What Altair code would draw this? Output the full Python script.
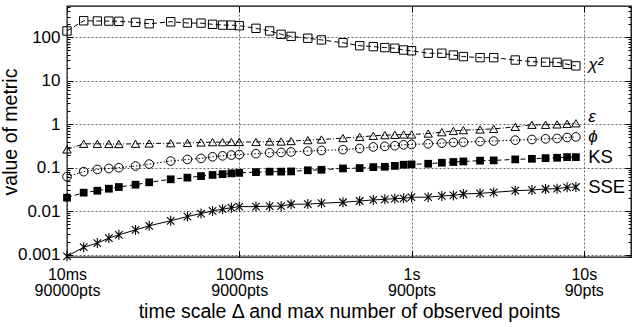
import json
import altair as alt
import pandas as pd

# ---------------- data ----------------
x_time = [0.01, 0.0125, 0.015, 0.0175, 0.02, 0.025, 0.03, 0.04, 0.05, 0.06, 0.07, 0.08, 0.09,
          0.1, 0.125, 0.15, 0.175, 0.2, 0.25, 0.3, 0.4, 0.5, 0.6, 0.7, 0.8, 0.9,
          1.0, 1.25, 1.5, 1.75, 2.0, 2.5, 3.0, 4.0, 5.0, 6.0, 7.0, 8.0, 9.0]

chi2 = [140, 240, 237, 236, 233, 221, 205, 228, 213, 212, 199, 191, 190,
        185, 161, 140, 117, 105, 95, 87, 75, 64, 61, 58, 56, 51,
        49, 43, 43, 39, 36, 34, 34, 30, 27.6, 26.7, 26.5, 24, 22]

eps = [0.263, 0.354, 0.354, 0.35, 0.35, 0.354, 0.36, 0.365, 0.37, 0.38, 0.386, 0.386, 0.39,
       0.39, 0.39, 0.40, 0.40, 0.41, 0.43, 0.445, 0.48, 0.51, 0.54, 0.56, 0.57, 0.58,
       0.58, 0.61, 0.655, 0.70, 0.73, 0.755, 0.78, 0.87, 0.97, 0.97, 0.99, 1.02, 1.05]

phi = [0.062, 0.081, 0.091, 0.096, 0.10, 0.109, 0.121, 0.142, 0.155, 0.163, 0.178, 0.187, 0.195,
       0.20, 0.21, 0.22, 0.224, 0.23, 0.24, 0.249, 0.26, 0.277, 0.30, 0.31, 0.32, 0.336,
       0.342, 0.355, 0.367, 0.38, 0.386, 0.40, 0.41, 0.43, 0.445, 0.46, 0.47, 0.495, 0.51]

ks = [0.0204, 0.0266, 0.0295, 0.0328, 0.0359, 0.0406, 0.046, 0.054, 0.059, 0.064, 0.068, 0.071, 0.074,
      0.076, 0.079, 0.081, 0.081, 0.082, 0.087, 0.0895, 0.096, 0.098, 0.103, 0.105, 0.11, 0.117,
      0.119, 0.123, 0.13, 0.135, 0.139, 0.145, 0.147, 0.155, 0.16, 0.166, 0.169, 0.175, 0.175]

sse = [0.00091, 0.00148, 0.00184, 0.0024, 0.00285, 0.0037, 0.0046, 0.006, 0.0075, 0.0088, 0.0101, 0.0111, 0.012,
       0.0127, 0.0127, 0.013, 0.013, 0.0144, 0.0145, 0.0152, 0.016, 0.0171, 0.0181, 0.0187, 0.0194, 0.0197,
       0.0209, 0.0209, 0.0224, 0.023, 0.0248, 0.0257, 0.027, 0.0295, 0.0306, 0.0323, 0.0328, 0.0353, 0.0359]

series_keys = ["chi2", "eps", "phi", "ks", "sse"]
series_vals = [chi2, eps, phi, ks, sse]

label_text = ["χ²", "ε", "ϕ", "KS", "SSE"]
label_italic = [True, True, True, False, False]
label_x = [10.6, 10.6, 10.6, 10.6, 10.6]
label_y = [23, 1.5, 0.5, 0.18, 0.0366]

x_tick_vals = [0.01, 0.1, 1, 10]
x_tick_time = ["10ms", "100ms", "1s", "10s"]
x_tick_pts = ["90000pts", "9000pts", "900pts", "90pts"]
y_tick_vals = [0.001, 0.01, 0.1, 1, 10, 100]

X_DOMAIN = [0.01, 18.8]
Y_DOMAIN = [0.00088, 525]

# ---------------- tables ----------------
rows = []
for key, vals in zip(series_keys, series_vals):
    for t, v in zip(x_time, vals):
        rows.append({"t": t, "v": v, "s": key})
df = pd.DataFrame(rows)

lab_df = pd.DataFrame({"txt": label_text, "it": label_italic, "t": label_x, "v": label_y})

y_minor = [k * 10.0 ** d for d in range(-4, 3) for k in range(2, 10)
           if Y_DOMAIN[0] <= k * 10.0 ** d <= Y_DOMAIN[1]]

FONT = "Liberation Sans"
xs = alt.Scale(type="log", domain=X_DOMAIN, nice=False)
ys = alt.Scale(type="log", domain=Y_DOMAIN, nice=False)

# two-line x tick labels (second line nudged right for the last two, as in the source)
indent = [0, 0, 7, 5]
parts = []
for i, (val, a, b) in enumerate(zip(x_tick_vals, x_tick_time, x_tick_pts)):
    arr = json.dumps([a, "\u00a0" * indent[i] + b], ensure_ascii=False)
    parts.append((val, arr))
expr = parts[-1][1]
for val, arr in reversed(parts[:-1]):
    expr = f"datum.value < {val * 3.16} ? {arr} : ({expr})"

main_x_axis = alt.Axis(values=x_tick_vals, labelExpr=expr, labelFlush=False, labelOverlap=False,
                       labelFont=FONT, labelFontSize=16, labelColor="black", labelPadding=9,
                       labelLineHeight=16, ticks=False, domain=False,
                       grid=True, gridColor="#666", gridDash=[2, 2], gridWidth=1,
                       title="time scale Δ and max number of observed points",
                       titleFont=FONT, titleFontSize=19.5, titleFontWeight="normal",
                       titleColor="black", titlePadding=4)
main_y_axis = alt.Axis(values=y_tick_vals, format="~g", labelFont=FONT, labelFontSize=17,
                       labelColor="black", labelPadding=7, labelOverlap=False,
                       ticks=False, domain=False,
                       grid=True, gridColor="#666", gridDash=[2, 2], gridWidth=1,
                       title="value of metric", titleFont=FONT, titleFontSize=19.5,
                       titleFontWeight="normal", titleColor="black", titlePadding=-3)


def tick_axis(orient, values, size):
    return alt.Axis(orient=orient, values=values, tickSize=size, offset=-size, labels=False,
                    domain=False, grid=False, title=None, tickColor="black", tickWidth=1)


def ghost(xaxis, yaxis):
    return alt.Chart(df).mark_point(opacity=0).encode(
        x=alt.X("t:Q", scale=xs, axis=xaxis),
        y=alt.Y("v:Q", scale=ys, axis=yaxis),
    )


layers = [
    ghost(main_x_axis, main_y_axis),
    ghost(tick_axis("bottom", x_tick_vals, 6), tick_axis("left", y_tick_vals, 6)),
    ghost(tick_axis("top", x_tick_vals, 6), tick_axis("right", y_tick_vals, 6)),
    ghost(None, tick_axis("left", y_minor, 3)),
    ghost(None, tick_axis("right", y_minor, 3)),
]

ASTER = "M0,-1L0,1M-0.75,-0.75L0.75,0.75M-0.75,0.75L0.75,-0.75"
styles = {
    "chi2": dict(dash=[5, 3], shape="square", filled=False, size=70),
    "eps": dict(dash=[5, 2, 1, 2], shape="triangle-up", filled=False, size=70),
    "phi": dict(dash=[1.5, 2], shape="circle", filled=False, size=75),
    "ks": dict(dash=[5, 3], shape="square", filled=True, size=60),
    "sse": dict(dash=None, shape=ASTER, filled=False, size=100),
}

for key in series_keys:
    st = styles[key]
    base = alt.Chart(df).transform_filter(alt.datum.s == key).encode(
        x=alt.X("t:Q", scale=xs, axis=None),
        y=alt.Y("v:Q", scale=ys, axis=None),
    )
    line_kw = dict(color="black", strokeWidth=1)
    if st["dash"]:
        line_kw["strokeDash"] = st["dash"]
    layers.append(base.mark_line(**line_kw))
    pt_kw = dict(shape=st["shape"], size=st["size"], filled=st["filled"], color="black",
                 strokeWidth=1.1 if key == "sse" else 1, opacity=1)
    layers.append(base.mark_point(**pt_kw))

lab_base = alt.Chart(lab_df).encode(
    x=alt.X("t:Q", scale=xs, axis=None),
    y=alt.Y("v:Q", scale=ys, axis=None),
    text="txt:N",
)
layers.append(lab_base.transform_filter("datum.it").mark_text(
    align="left", baseline="middle", font=FONT, fontSize=17, fontStyle="italic", color="black"))
layers.append(lab_base.transform_filter("!datum.it").mark_text(
    align="left", baseline="middle", font=FONT, fontSize=18.5, color="black"))

chart = alt.layer(*layers).resolve_axis(x="independent", y="independent").properties(
    width=564, height=251,
    autosize=alt.AutoSizeParams(type="none"),
    padding={"left": 67, "top": 6, "right": 1, "bottom": 70},
    background="white",
).configure_view(stroke="black", strokeWidth=1.3)

chart.save("out.html", embed_options={"renderer": "svg", "actions": False})
